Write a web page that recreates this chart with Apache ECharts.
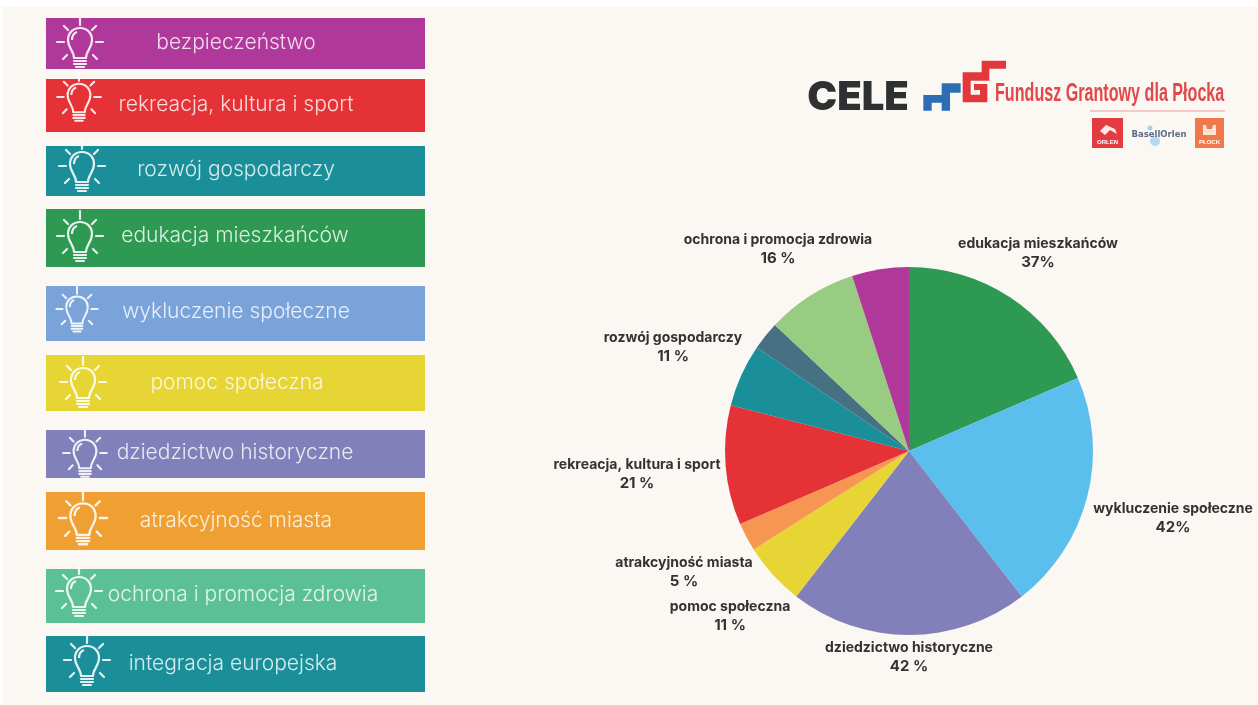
<!DOCTYPE html>
<html>
<head>
<meta charset="utf-8">
<title>Cele - Fundusz Grantowy dla Płocka</title>
<script src="https://cdn.jsdelivr.net/npm/echarts@6/dist/echarts.min.js"></script>
<style>
  html, body { margin: 0; padding: 0; background: #fff; }
  #chart { width: 1258px; height: 705px; }
</style>
</head>
<body>
<div id="chart"></div>
<script>
// pie, clockwise from the top
const categories = ['edukacja mieszkańców', 'wykluczenie społeczne', 'dziedzictwo historyczne', 'pomoc społeczna', 'atrakcyjność miasta', 'rekreacja, kultura i sport', 'rozwój gospodarczy', 'integracja europejska', 'ochrona i promocja zdrowia', 'bezpieczeństwo']
// the two slices without a printed label are read off their angle
const sliceValues = [37, 42, 42, 11, 5, 21, 11, 5, 16, 10]
const printedPercents = ['37%', '42%', '42 %', '11 %', '5 %', '21 %', '11 %', '', '16 %', '']
const sliceColors = ['#2e9953', '#5bbfee', '#8180bb', '#e6d534', '#f79552', '#e43236', '#1a8f99', '#457183', '#97cc82', '#b0389a']

// banners on the left, top to bottom
const bannerLabels = ['bezpieczeństwo', 'rekreacja, kultura i sport', 'rozwój gospodarczy', 'edukacja mieszkańców', 'wykluczenie społeczne', 'pomoc społeczna', 'dziedzictwo historyczne', 'atrakcyjność miasta', 'ochrona i promocja zdrowia', 'integracja europejska']
const bannerColors = ['#b0389a', '#e43236', '#1a8f99', '#2e9953', '#7aa3da', '#e6d534', '#8180bb', '#f09f33', '#5cc097', '#1a8f99']

// layout only: [top, bottom, text centre x, text centre y, bulb x, bulb y, bulb scale]
const bannerLayout = [
  [18, 69, 236, 43, 80, 42, 1],
  [79, 132, 236, 105, 79, 97, 0.95],
  [146, 196, 236, 170, 82, 166, 1],
  [209, 267, 235, 236, 80, 236, 1],
  [286, 341, 236, 312, 77, 309, 0.9],
  [355, 411, 237, 383, 83, 382, 1],
  [430, 478, 235, 453, 85, 453, 0.95],
  [492, 550, 236, 521, 83, 518, 1.05],
  [569, 623, 243, 595, 79, 591, 1],
  [636, 692, 233, 664, 87, 660, 1]
]
// layout only: label centres around the pie, same order as categories
const labelCentres = [[1038, 253], [1173, 518], [909, 657], [730, 616], [684, 572], [637, 474], [673, 347], null, [778, 249], null]

const bulbStroke = 'rgba(255,255,255,0.88)'

function bulb(x, y, s) {
  const rays = [[0, -25, 0, -17], [-23, 0, -16, 0], [16, 0, 23, 0], [-16, -16, -12, -12], [16, -16, 12, -12], [-17, 17, -13, 13], [17, 17, 13, 13], [-6, 19, 6, 19], [-6, 22, 6, 22], [-4, 25, 4, 25], [-6, 16, 6, 16]]
  // glass outline: [start x, start y, control 1, control 2, end]
  const glass = [
    [-6, 16, -6, 9, -12, 6, -12, -2],
    [-12, -2, -12, -9, -7, -14, 0, -14],
    [0, -14, 7, -14, 12, -9, 12, -2],
    [12, -2, 12, 6, 6, 9, 6, 16],
    [-8, -2, -8, -6, -6, -9, -3, -10]
  ]
  const children = rays.map(r => ({
    type: 'line',
    shape: { x1: r[0], y1: r[1], x2: r[2], y2: r[3] },
    style: { stroke: bulbStroke, lineWidth: 2.2, lineCap: 'round' }
  }))
  glass.forEach(g => {
    children.push({
      type: 'bezierCurve',
      shape: { x1: g[0], y1: g[1], cpx1: g[2], cpy1: g[3], cpx2: g[4], cpy2: g[5], x2: g[6], y2: g[7] },
      style: { fill: 'none', stroke: bulbStroke, lineWidth: 2.2 }
    })
  })
  return { type: 'group', x: x, y: y, scaleX: s, scaleY: s, children: children }
}

function banners() {
  const out = []
  bannerLabels.forEach((label, i) => {
    const b = bannerLayout[i]
    out.push({ type: 'rect', shape: { x: 46, y: b[0], width: 379, height: b[1] - b[0] }, style: { fill: bannerColors[i] } })
    out.push({
      type: 'text', x: b[2], y: b[3],
      style: { text: label, fill: 'rgba(255,255,255,0.82)', font: '300 21px Inter', align: 'center', verticalAlign: 'middle' }
    })
    out.push(bulb(b[4], b[5], b[6]))
  })
  return out
}

function logo() {
  const poly = (pts, fill) => ({ type: 'polygon', shape: { points: pts }, style: { fill: fill } })
  return [
    { type: 'text', x: 858, y: 98, style: { text: 'CELE', fill: '#2f3032', font: '900 40px Inter', align: 'center', verticalAlign: 'middle' } },
    {
      // traced in a 3x crop of the logo, hence the 1/3 scale
      type: 'group', x: 790, y: 40, scaleX: 1 / 3, scaleY: 1 / 3,
      children: [
        poly([[400, 165], [455, 165], [455, 130], [512, 130], [512, 158], [480, 158], [480, 212], [455, 212], [455, 188], [425, 188], [425, 212], [400, 212]], '#2e6db4'),
        poly([[518, 97], [575, 97], [575, 62], [648, 62], [648, 86], [598, 86], [598, 122], [542, 122], [542, 164], [570, 164], [570, 150], [552, 150], [552, 132], [592, 132], [592, 187], [518, 187]], '#e2383c')
      ]
    },
    { type: 'text', x: 995, y: 94, scaleX: 0.62, style: { text: 'Fundusz Grantowy dla Płocka', fill: '#e2474a', font: 'bold 26px "Liberation Sans"', align: 'left', verticalAlign: 'middle' } },
    { type: 'line', shape: { x1: 1090, y1: 111, x2: 1225, y2: 111 }, style: { stroke: '#ee9a96', lineWidth: 1 } },
    { type: 'rect', shape: { x: 1092, y: 118, width: 31, height: 30 }, style: { fill: '#e23c40' } },
    poly([[1100, 131], [1106, 125], [1115, 129], [1117, 134], [1110, 130], [1105, 135]], '#fbe9e6'),
    { type: 'text', x: 1107.5, y: 142, style: { text: 'ORLEN', fill: '#fff', font: 'bold 6px "Liberation Sans"', align: 'center', verticalAlign: 'middle' } },
    { type: 'circle', shape: { cx: 1150, cy: 128, r: 2.5 }, style: { fill: '#a9cfe8' } },
    { type: 'circle', shape: { cx: 1155, cy: 141, r: 5 }, style: { fill: '#b8d9ef' } },
    { type: 'text', x: 1159, y: 135, style: { text: 'BasellOrlen', fill: '#5d6b84', font: 'bold 8.5px "DejaVu Sans"', align: 'center', verticalAlign: 'middle' } },
    { type: 'rect', shape: { x: 1195, y: 118, width: 29, height: 30 }, style: { fill: '#f0784a' } },
    poly([[1203, 125], [1206, 125], [1207, 129], [1212, 129], [1213, 125], [1216, 125], [1216, 135], [1203, 135]], '#fbe3d6'),
    { type: 'text', x: 1209.5, y: 142, style: { text: 'PŁOCK', fill: '#fff', font: 'bold 6px "Liberation Sans"', align: 'center', verticalAlign: 'middle' } }
  ]
}

const chart = echarts.init(document.getElementById('chart'), null, { renderer: 'canvas' })

chart.setOption({
  animation: false,
  backgroundColor: '#fff',
  graphic: {
    elements: [
      { type: 'rect', z: -10, shape: { x: 2, y: 7, width: 1256, height: 698 }, style: { fill: '#fbf7f3' } }
    ].concat(banners(), logo())
  },
  series: [
    {
      type: 'pie',
      center: [909, 451],
      radius: 184,
      startAngle: 90,
      clockwise: true,
      avoidLabelOverlap: false,
      data: categories.map((name, i) => ({
        name: name,
        value: sliceValues[i],
        itemStyle: { color: sliceColors[i] },
        label: { show: labelCentres[i] !== null }
      })),
      label: {
        position: 'outside',
        formatter: p => p.name + '\n{pct|' + printedPercents[p.dataIndex] + '}',
        color: '#333',
        fontFamily: 'Inter',
        fontWeight: 700,
        fontSize: 14,
        lineHeight: 18,
        align: 'center',
        rich: {
          pct: { color: '#333', fontFamily: 'Inter', fontWeight: 700, fontSize: 15, lineHeight: 18, align: 'center' }
        }
      },
      labelLine: { show: false },
      labelLayout: params => {
        const c = labelCentres[params.dataIndex]
        return c ? { x: c[0], y: c[1], align: 'center', verticalAlign: 'middle' } : {}
      }
    }
  ]
})
</script>
</body>
</html>
